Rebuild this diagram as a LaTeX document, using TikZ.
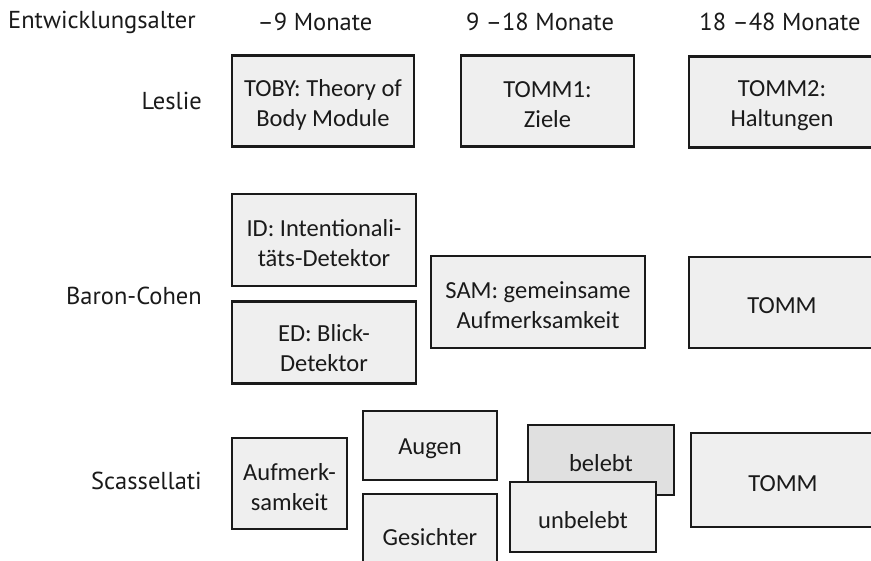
\documentclass[tikz,border=0pt]{standalone}
\usepackage{fontspec}
\setmainfont{Carlito}
\newfontfamily\labfont{PT Sans}
\definecolor{boxfill}{HTML}{EFEFEF}
\definecolor{darkfill}{HTML}{E0E0E0}
\definecolor{ink}{HTML}{1A1A1A}
\begin{document}
\begin{tikzpicture}[x=1pt,y=-1pt,
  box/.style={draw=ink, line width=2.4pt, fill=boxfill, inner sep=0pt},
  boxtext/.style={align=center, inner sep=0pt, yshift=-3.5pt,
    font=\fontsize{24.5}{30}\selectfont, text=ink},
  lab/.style={font=\labfont\fontsize{24.5}{28}\selectfont, text=ink, inner sep=0pt}]
\clip (0,0) rectangle (871,561);
\fill[white] (0,0) rectangle (871,561);
% header
\node[lab, anchor=west] (h0) at (8,22) {Entwicklungsalter};
\node[lab] (h1) at (315,22) {–9 Monate};
\node[lab] (h2) at (540,22) {9 –18 Monate};
\node[lab] (h3) at (780,22) {18 –48 Monate};
% row labels
\node[lab, anchor=east] (r1) at (202,101) {Leslie};
\node[lab, anchor=east] (r2) at (202,296) {Baron-Cohen};
\node[lab, anchor=east] (r3) at (202,481) {Scassellati};
% Leslie
\node[box, minimum width=182pt, minimum height=91pt,
  label={[boxtext]center:{TOBY: Theory of\\Body Module}}] (toby) at (323,101) {};
\node[box, minimum width=173pt, minimum height=91pt,
  label={[boxtext]center:{TOMM1:\\Ziele}}] (tomm1) at (547.5,101) {};
\node[box, minimum width=200pt, minimum height=91pt,
  label={[boxtext, xshift=-7pt]center:{TOMM2:\\Haltungen}}] (tomm2) at (789,102) {};
% Baron-Cohen
\node[box, minimum width=184pt, minimum height=92pt,
  label={[boxtext]center:{ID: Intentionali-\\täts-Detektor}}] (id) at (324,240) {};
\node[box, minimum width=184pt, minimum height=82pt,
  label={[boxtext, yshift=-2pt]center:{ED: Blick-\\Detektor}}] (ed) at (324,342.5) {};
\node[box, minimum width=214pt, minimum height=92pt,
  label={[boxtext]center:{SAM: gemeinsame\\Aufmerksamkeit}}] (sam) at (538,302) {};
\node[box, minimum width=200pt, minimum height=91pt,
  label={[boxtext, xshift=-7pt]center:{TOMM}}] (tomm) at (789,302.5) {};
% Scassellati
\node[box, minimum width=115pt, minimum height=91pt,
  label={[boxtext]center:{Aufmerk-\\samkeit}}] (auf) at (289.5,483.5) {};
\node[box, minimum width=134pt, minimum height=69pt,
  label={[boxtext]center:{Augen}}] (aug) at (430,445.5) {};
\node[box, minimum width=134pt, minimum height=80pt,
  label={[boxtext]center:{Gesichter}}] (ges) at (430,534) {};
\node[box, fill=darkfill, minimum width=146pt, minimum height=70pt,
  label={[boxtext]center:{belebt}}] (bel) at (601,460) {};
\node[box, minimum width=146pt, minimum height=70pt,
  label={[boxtext]center:{unbelebt}}] (unb) at (583,517) {};
\node[box, minimum width=198pt, minimum height=94pt,
  label={[boxtext, xshift=-7pt]center:{TOMM}}] (tommS) at (790,480) {};
\end{tikzpicture}
\end{document}
